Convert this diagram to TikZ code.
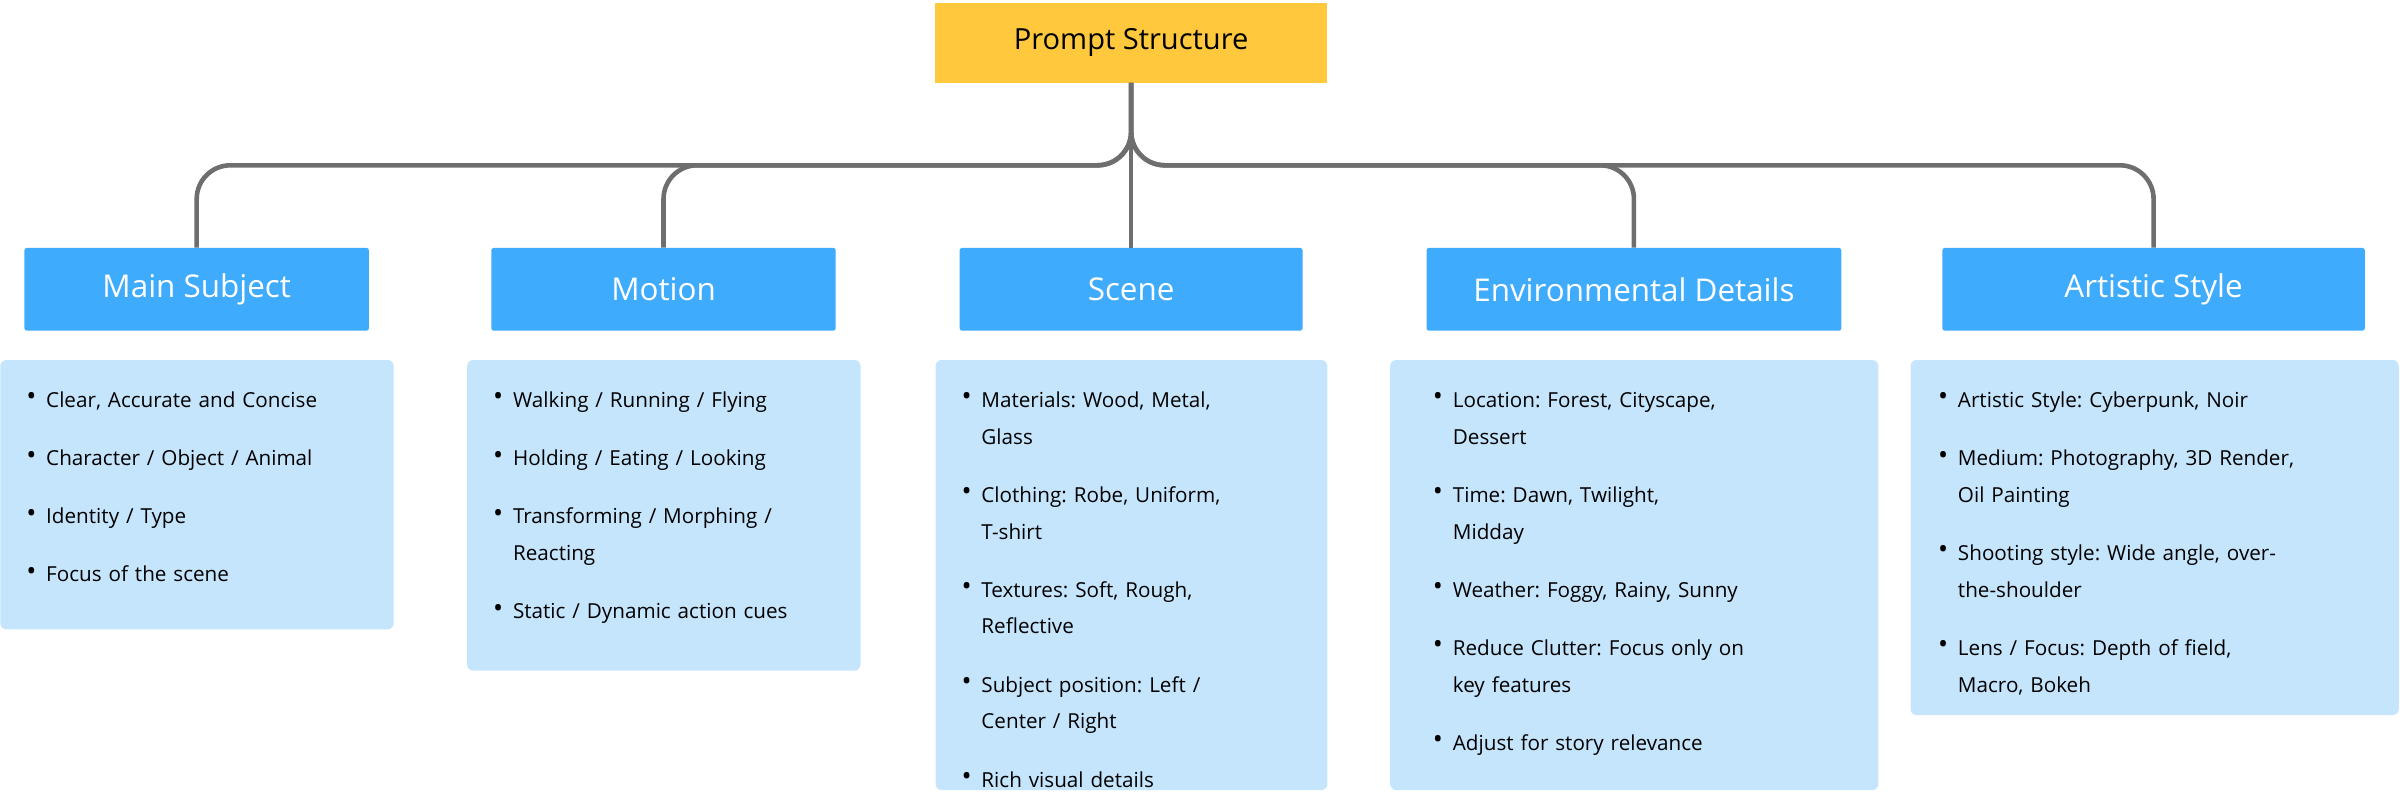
\documentclass[tikz,border=0pt]{standalone}
\usepackage{fontspec}
\setmainfont{Open Sans}
\frenchspacing
\definecolor{topyellow}{HTML}{FFC83D}
\definecolor{headblue}{HTML}{3FABFD}
\definecolor{listblue}{HTML}{C5E5FC}
\definecolor{linkgray}{HTML}{6E6E6E}
\newcommand\itm[1]{\par\hangindent=13pt\hangafter=1\noindent\makebox[13pt][l]{\raisebox{1pt}{\scalebox{1.3}{\textbullet}}}#1}
\tikzset{
topbox/.style={fill=topyellow, minimum width=256pt, minimum height=52pt, inner sep=0pt, font=\fontsize{19}{22}\selectfont},
headbox/.style={fill=headblue, text=white, minimum height=54pt, inner sep=0pt, rounded corners=1.5pt, font=\fontsize{20.5}{24}\selectfont},
listbox/.style={fill=listblue, rounded corners=4pt, anchor=north west, inner sep=0pt},
listtext/.style={anchor=north west, inner sep=0pt, text width=300pt, align=left, font=\fontsize{13.5}{24}\selectfont\setlength{\parskip}{14pt}},
link/.style={draw=linkgray, line width=3pt, rounded corners=22pt}
}
\begin{document}
\begin{tikzpicture}[x=1pt,y=-1pt]
\useasboundingbox (0,0) rectangle (1568,517);

% top
\node[topbox] (top) at (739,28) {Prompt Structure};

% headers
\node[headbox, minimum width=225pt] (h1) at (128.5,189) {Main Subject};
\node[headbox, minimum width=225pt] (h2) at (433.5,189) {Motion};
\node[headbox, minimum width=224pt] (h3) at (739,189) {Scene};
\node[headbox, minimum width=271pt] (h4) at (1067.5,189) {Environmental Details};
\node[headbox, minimum width=276pt] (h5) at (1407,189) {Artistic Style};

% connectors
\coordinate (j) at (739,108);
\draw[link] (h1.north) |- (j) -- (top.south);
\draw[link] (h2.north) |- (j) -- (top.south);
\draw[link] (h4.north) |- (j) -- (top.south);
\draw[link] (h5.north) |- (j) -- (top.south);
\draw[link] (top.south) -- (h3.north);

% list boxes
\node[listbox, minimum width=257pt, minimum height=176pt] (b1) at (0,235) {};
\node[listbox, minimum width=257pt, minimum height=203pt] (b2) at (305,235) {};
\node[listbox, minimum width=256pt, minimum height=281pt] (b3) at (611,235) {};
\node[listbox, minimum width=319pt, minimum height=281pt] (b4) at (908,235) {};
\node[listbox, minimum width=319pt, minimum height=232pt] (b5) at (1248,235) {};

\node[listtext] (t1) at ([shift={(17,-7)}]b1.north west) {%
\itm{Clear, Accurate and Concise}
\itm{Character / Object / Animal}
\itm{Identity / Type}
\itm{Focus of the scene}\par};
\node[listtext] (t2) at ([shift={(17,-7)}]b2.north west) {%
\itm{Walking / Running / Flying}
\itm{Holding / Eating / Looking}
\itm{Transforming / Morphing /\newline Reacting}
\itm{Static / Dynamic action cues}\par};
\node[listtext] (t3) at ([shift={(17,-7)}]b3.north west) {%
\itm{Materials: Wood, Metal,\newline Glass}
\itm{Clothing: Robe, Uniform,\newline T-shirt}
\itm{Textures: Soft, Rough,\newline Reflective}
\itm{Subject position: Left /\newline Center / Right}
\itm{Rich visual details}\par};
\node[listtext] (t4) at ([shift={(28,-7)}]b4.north west) {%
\itm{Location: Forest, Cityscape,\newline Dessert}
\itm{Time: Dawn, Twilight,\newline Midday}
\itm{Weather: Foggy, Rainy, Sunny}
\itm{Reduce Clutter: Focus only on\newline key features}
\itm{Adjust for story relevance}\par};
\node[listtext] (t5) at ([shift={(18,-7)}]b5.north west) {%
\itm{Artistic Style: Cyberpunk, Noir}
\itm{Medium: Photography, 3D Render,\newline Oil Painting}
\itm{Shooting style: Wide angle, over-\newline the-shoulder}
\itm{Lens / Focus: Depth of field,\newline Macro, Bokeh}\par};
\end{tikzpicture}
\end{document}
